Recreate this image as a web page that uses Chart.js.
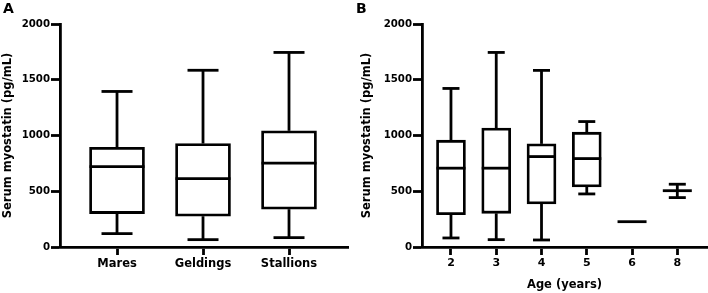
<!DOCTYPE html>
<html>
<head>
<meta charset="utf-8">
<script src="https://cdn.jsdelivr.net/npm/chart.js@4"></script>
<style>
  body { margin: 0; background: #fff; width: 708px; height: 293px; position: relative; overflow: hidden; }
  .panel { position: absolute; top: 0; width: 354px; height: 293px; }
  .tag { position: absolute; top: 0; font: bold 14px "DejaVu Sans"; color: #000; }
</style>
</head>
<body>
<div class="panel" style="left:0"><canvas id="chartA" width="354" height="293"></canvas></div>
<div class="panel" style="left:354px"><canvas id="chartB" width="354" height="293"></canvas></div>
<div class="tag" style="left:3px">A</div>
<div class="tag" style="left:356px">B</div>
<script>
// ---- panel A: by sex ----
const sexLabels = ["Mares", "Geldings", "Stallions"];
const sexMin    = [120, 66, 84];
const sexQ1     = [300, 276, 339];
const sexMedian = [720, 614, 752];
const sexQ3     = [895, 928, 1042];
const sexMax    = [1395, 1585, 1745];

// ---- panel B: by age ----
const ageLabels = ["2", "3", "4", "5", "6", "8"];
const ageMin    = [81, 66, 63, 476, 227, 443];
const ageQ1     = [290, 302, 386, 539, 227, 505];
const ageMedian = [707, 707, 811, 793, 227, 505];
const ageQ3     = [958, 1066, 925, 1030, 227, 505];
const ageMax    = [1422, 1745, 1584, 1125, 227, 563];

const yTicks = [0, 500, 1000, 1500, 2000];
const LW = 2.8;

// whiskers, caps and medians, drawn through the chart's scales
const boxPlugin = {
  id: "boxWhiskers",
  afterDatasetsDraw(chart, args, o) {
    const { ctx, scales: { x, y } } = chart;
    const seg = (x1, y1, x2, y2) => { ctx.beginPath(); ctx.moveTo(x1, y1); ctx.lineTo(x2, y2); ctx.stroke(); };
    ctx.save();
    ctx.strokeStyle = "#000";
    ctx.lineWidth = LW;
    o.median.forEach((m, i) => {
      const cx = x.getPixelForValue(i);
      const hb = o.boxWidth / 2, hc = o.capWidth / 2;
      if (o.max[i] > o.q3[i]) {
        seg(cx, y.getPixelForValue(o.q3[i]), cx, y.getPixelForValue(o.max[i]));
        seg(cx - hc, y.getPixelForValue(o.max[i]), cx + hc, y.getPixelForValue(o.max[i]));
      }
      if (o.min[i] < o.q1[i]) {
        seg(cx, y.getPixelForValue(o.q1[i]), cx, y.getPixelForValue(o.min[i]));
        seg(cx - hc, y.getPixelForValue(o.min[i]), cx + hc, y.getPixelForValue(o.min[i]));
      }
      seg(cx - hb, y.getPixelForValue(m), cx + hb, y.getPixelForValue(m));
    });
    ctx.restore();
  }
};

function makeBoxChart(id, cfg) {
  const { labels, min, q1, median, q3, max } = cfg;
  const boxes = labels.map((_, i) => ({ x: i, y: [q1[i], q3[i]] })).filter(d => d.y[0] !== d.y[1]);
  new Chart(document.getElementById(id), {
    type: "bar",
    data: {
      datasets: [{
        data: boxes, backgroundColor: "#fff", borderColor: "#000", borderWidth: LW,
        borderSkipped: false, barThickness: cfg.boxWidth,
      }],
    },
    options: {
      responsive: false, animation: false, devicePixelRatio: 1,
      layout: { padding: { top: 24, right: cfg.padRight, left: 0, bottom: 0 } },
      plugins: {
        legend: { display: false }, tooltip: { enabled: false },
        boxWhiskers: { min, q1, median, q3, max, boxWidth: cfg.boxWidth, capWidth: cfg.capWidth },
      },
      scales: {
        x: {
          type: "linear", min: cfg.xMin, max: cfg.xMax, offset: false,
          afterBuildTicks: s => { s.ticks = labels.map((_, i) => ({ value: i })); },
          afterFit: s => { s.height = 46; },
          ticks: { callback: v => labels[v], color: "#000", padding: 2, autoSkip: false, maxRotation: 0,
                   font: { family: "DejaVu Sans", weight: "bold", size: cfg.xFont } },
          grid: { offset: false, drawOnChartArea: false, tickLength: 8, tickWidth: LW, color: "#000" },
          border: { color: "#000", width: LW },
          title: { display: !!cfg.xTitle, text: cfg.xTitle, color: "#000", padding: { top: 0, bottom: 1 },
                   font: { family: "DejaVu Sans", weight: "bold", size: 11.5 } },
        },
        y: {
          min: 0, max: 2000,
          afterBuildTicks: s => { s.ticks = yTicks.map(v => ({ value: v })); },
          afterFit: s => { s.width = cfg.yWidth; },
          ticks: { callback: v => String(v), color: "#000", padding: 1,
                   font: { family: "DejaVu Sans", weight: "bold", size: 10.2 } },
          grid: { drawOnChartArea: false, tickLength: 9, tickWidth: LW, color: "#000" },
          border: { color: "#000", width: LW },
          title: { display: true, text: "Serum myostatin (pg/mL)", color: "#000", padding: { top: cfg.yTitlePad, bottom: 0 },
                   font: { family: "DejaVu Sans", weight: "bold", size: 11.5 } },
        },
      },
    },
    plugins: [boxPlugin],
  });
}

makeBoxChart("chartA", {
  labels: sexLabels, min: sexMin, q1: sexQ1, median: sexMedian, q3: sexQ3, max: sexMax,
  boxWidth: 55, capWidth: 31, xMin: -0.663, xMax: 2.686, padRight: 6, yWidth: 60, yTitlePad: 1.6, xFont: 11.5,
});
makeBoxChart("chartB", {
  labels: ageLabels, min: ageMin, q1: ageQ1, median: ageMedian, q3: ageQ3, max: ageMax,
  boxWidth: 29, capWidth: 17, xMin: -0.64, xMax: 5.656, padRight: 1, yWidth: 68, yTitlePad: 6, xFont: 11,
  xTitle: "Age (years)",
});
</script>
</body>
</html>
